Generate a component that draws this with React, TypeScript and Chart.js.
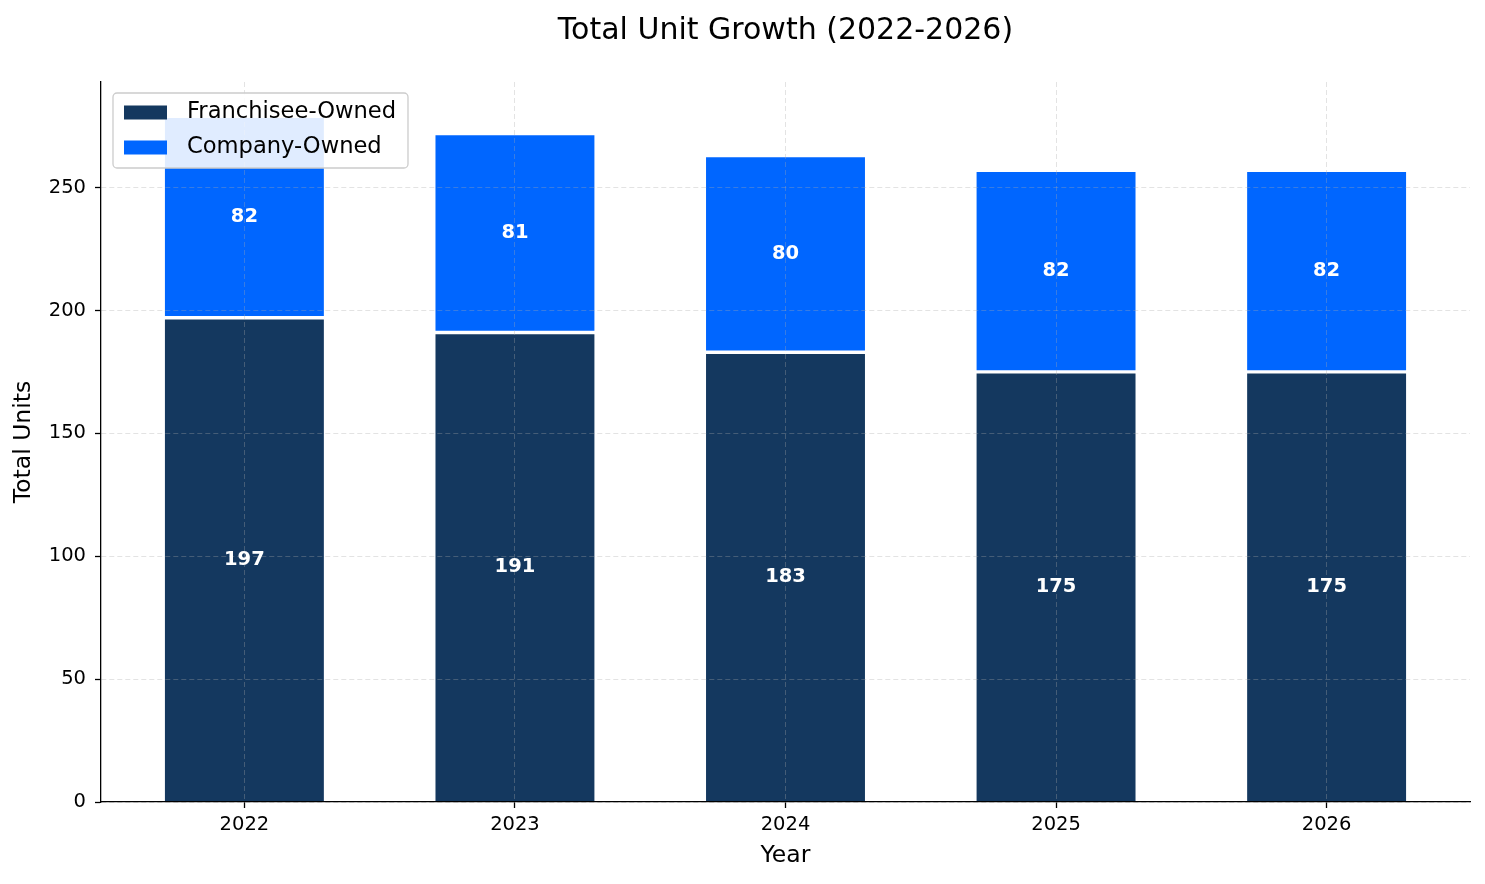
import { useEffect, useRef } from "react";
import { Chart, registerables } from "chart.js";

Chart.register(...registerables);

const YEARS = ["2022", "2023", "2024", "2025", "2026"];
const FRANCHISEE_OWNED = [197, 191, 183, 175, 175];
const COMPANY_OWNED = [82, 81, 80, 82, 82];
const Y_TICKS = [0, 50, 100, 150, 200, 250];

const NAVY = "#14385F";
const BLUE = "#0066FF";
const GRID = "rgba(170,170,170,0.33)";
const FONT = "'DejaVu Sans', sans-serif";

// matplotlib-like margins: bars are 0.6 wide, 5% padding on each axis
const BAR_WIDTH = 0.6;
const xSpan = YEARS.length - 1 + BAR_WIDTH;
const X_MIN = -BAR_WIDTH / 2 - xSpan * 0.05;
const X_MAX = YEARS.length - 1 + BAR_WIDTH / 2 + xSpan * 0.05;
const Y_MAX = Math.max(...FRANCHISEE_OWNED.map((v, i) => v + COMPANY_OWNED[i])) * 1.05;

const barLabels = {
  id: "barLabels",
  afterDraw(chart: any) {
    const { ctx } = chart;
    ctx.save();
    ctx.font = `bold 19.5px ${FONT}`;
    ctx.fillStyle = "#ffffff";
    ctx.textAlign = "center";
    ctx.textBaseline = "middle";
    chart.data.datasets.forEach((ds: any, di: number) => {
      const meta = chart.getDatasetMeta(di);
      meta.data.forEach((bar: any, i: number) => {
        const { x, y, base } = bar.getProps(["x", "y", "base"], true);
        ctx.fillText(String(ds.data[i].y), x, (y + base) / 2);
      });
    });
    ctx.restore();
  },
};

const boxLegend = {
  id: "boxLegend",
  afterDraw(chart: any) {
    const { ctx, chartArea } = chart;
    const left = chartArea.left + 12;
    const top = chartArea.top + 11;
    ctx.save();
    ctx.beginPath();
    ctx.roundRect(left, top, 295, 75, 4);
    ctx.fillStyle = "rgba(255,255,255,0.88)";
    ctx.fill();
    ctx.strokeStyle = "#cccccc";
    ctx.lineWidth = 1.3;
    ctx.stroke();
    ctx.font = `22.6px ${FONT}`;
    ctx.textBaseline = "middle";
    ctx.textAlign = "left";
    chart.data.datasets.forEach((ds: any, i: number) => {
      const rowY = top + 19.5 + i * 35;
      ctx.fillStyle = ds.backgroundColor;
      ctx.fillRect(left + 11, rowY - 7, 43, 14);
      ctx.fillStyle = "#000000";
      ctx.fillText(ds.label, left + 74, rowY);
    });
    ctx.restore();
  },
};

export default function App() {
  const canvasRef = useRef<HTMLCanvasElement | null>(null);

  useEffect(() => {
    if (!canvasRef.current) return;
    const ctx = canvasRef.current.getContext("2d");
    if (!ctx) return;

    const chart = new Chart(ctx, {
      type: "bar",
      data: {
        datasets: [
          {
            label: "Franchisee-Owned",
            data: FRANCHISEE_OWNED.map((v, i) => ({ x: i, y: v })),
            backgroundColor: NAVY,
            borderColor: "#ffffff",
            borderWidth: 1.7,
            borderSkipped: "start",
            stack: "units",
          },
          {
            label: "Company-Owned",
            data: COMPANY_OWNED.map((v, i) => ({ x: i, y: v })),
            backgroundColor: BLUE,
            borderColor: "#ffffff",
            borderWidth: 1.7,
            borderSkipped: false,
            stack: "units",
          },
        ],
      },
      options: {
        animation: false,
        responsive: true,
        maintainAspectRatio: false,
        barPercentage: BAR_WIDTH,
        categoryPercentage: 1,
        layout: { padding: { left: 0, right: 15, top: 0, bottom: 0 } },
        plugins: {
          legend: { display: false },
          tooltip: { enabled: false },
          title: {
            display: true,
            fullSize: false,
            text: "Total Unit Growth (2022-2026)",
            color: "#000000",
            font: { family: FONT, size: 30, weight: "normal" },
            padding: { top: 13, bottom: 33 },
          },
        },
        scales: {
          x: {
            type: "linear",
            min: X_MIN,
            max: X_MAX,
            offset: false,
            stacked: true,
            afterBuildTicks: (scale: any) => {
              scale.ticks = YEARS.map((_, i) => ({ value: i }));
            },
            afterFit: (scale: any) => {
              scale.height = 82;
            },
            grid: {
              z: 1,
              offset: false,
              color: GRID,
              lineWidth: 1,
              tickColor: "#000000",
              tickLength: 6,
              tickWidth: 1.3,
              tickBorderDash: [],
            },
            border: { display: true, color: "#000000", width: 1.3, dash: [5, 3], z: 2 },
            ticks: {
              color: "#000000",
              font: { family: FONT, size: 19.5 },
              padding: 5,
              maxRotation: 0,
              autoSkip: false,
              callback: (v: any) => YEARS[v] ?? "",
            },
            title: {
              display: true,
              text: "Year",
              color: "#000000",
              font: { family: FONT, size: 23.5 },
              padding: { top: 0, bottom: 14 },
            },
          },
          y: {
            type: "linear",
            min: 0,
            max: Y_MAX,
            stacked: true,
            afterBuildTicks: (scale: any) => {
              scale.ticks = Y_TICKS.map((value) => ({ value }));
            },
            afterFit: (scale: any) => {
              scale.width = 101;
            },
            grid: {
              z: 1,
              color: GRID,
              lineWidth: 1,
              tickColor: "#000000",
              tickLength: 6,
              tickWidth: 1.3,
              tickBorderDash: [],
            },
            border: { display: true, color: "#000000", width: 1.3, dash: [5, 3], z: 2 },
            ticks: {
              color: "#000000",
              font: { family: FONT, size: 19.5 },
              padding: 9,
            },
            title: {
              display: true,
              text: "Total Units",
              color: "#000000",
              font: { family: FONT, size: 23.5 },
              padding: { top: 10, bottom: 0 },
            },
          },
        },
      } as any,
      plugins: [barLabels, boxLegend],
    });

    return () => chart.destroy();
  }, []);

  return (
    <div style={{ position: "absolute", left: 0, top: 0, width: 1485, height: 884, background: "#ffffff" }}>
      <canvas ref={canvasRef} />
    </div>
  );
}
